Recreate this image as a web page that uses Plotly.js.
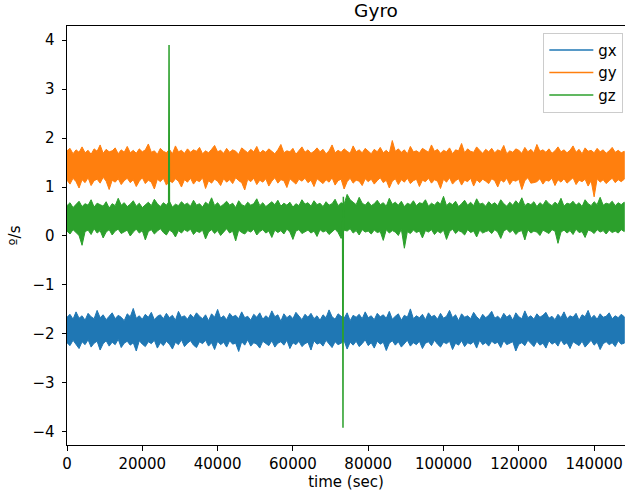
<!DOCTYPE html>
<html>
<head>
<meta charset="utf-8">
<script src="https://cdn.plot.ly/plotly-3.0.1.min.js"></script>
<style>html,body{margin:0;padding:0;background:#fff}#chart{width:625px;height:499px}</style>
</head>
<body>
<div id="chart"></div>
<script>
// Envelope of each noisy gyro signal, read per 800 s window: upper (Hi) and lower (Lo) edge.
const windowStep = 800;

const gxHi = [
-1.66,-1.60,-1.70,-1.55,-1.68,-1.63,-1.72,-1.58,-1.65,-1.69,-1.52,-1.67,-1.61,-1.71,-1.64,-1.57,-1.69,-1.62,-1.66,-1.73,
-1.59,-1.65,-1.48,-1.68,-1.63,-1.70,-1.60,-1.66,-1.56,-1.71,-1.64,-1.61,-1.69,-1.58,-1.67,-1.62,-1.72,-1.54,-1.66,-1.63,
-1.70,-1.60,-1.67,-1.57,-1.64,-1.69,-1.61,-1.73,-1.59,-1.66,-1.50,-1.68,-1.63,-1.71,-1.58,-1.65,-1.62,-1.69,-1.55,-1.67,
-1.64,-1.72,-1.60,-1.66,-1.57,-1.70,-1.63,-1.68,-1.53,-1.65,-1.61,-1.74,-1.59,-1.67,-1.62,-1.69,-1.56,-1.64,-1.71,-1.60,
-1.66,-1.58,-1.69,-1.63,-1.72,-1.61,-1.67,-1.51,-1.65,-1.70,-1.59,-1.64,-1.68,-1.57,-1.73,-1.62,-1.66,-1.60,-1.69,-1.55,
-1.67,-1.63,-1.71,-1.58,-1.65,-1.61,-1.68,-1.54,-1.70,-1.64,-1.59,-1.72,-1.62,-1.66,-1.49,-1.69,-1.63,-1.67,-1.60,-1.71,
-1.57,-1.65,-1.62,-1.70,-1.58,-1.68,-1.64,-1.52,-1.67,-1.61,-1.73,-1.59,-1.66,-1.63,-1.69,-1.56,-1.65,-1.71,-1.60,-1.67,
-1.62,-1.54,-1.68,-1.64,-1.70,-1.58,-1.66,-1.61,-1.72,-1.57,-1.65,-1.69,-1.53,-1.67,-1.63,-1.70,-1.59,-1.66,-1.62,-1.56,
-1.68,-1.64,-1.71,-1.60,-1.67,-1.55,-1.69,-1.63,-1.66,-1.58,-1.72,-1.61,-1.65,-1.52,-1.68,-1.62,-1.70,-1.59,-1.66,-1.64,
-1.57,-1.69,-1.63,-1.67,-1.60,-1.65
];
const gxLo = [
-2.18,-2.24,-2.13,-2.21,-2.30,-2.16,-2.22,-2.12,-2.27,-2.19,-2.15,-2.33,-2.20,-2.14,-2.25,-2.17,-2.22,-2.11,-2.28,-2.19,
-2.15,-2.23,-2.18,-2.35,-2.14,-2.21,-2.26,-2.16,-2.20,-2.13,-2.29,-2.18,-2.24,-2.15,-2.21,-2.31,-2.17,-2.22,-2.12,-2.26,
-2.19,-2.14,-2.23,-2.28,-2.16,-2.20,-2.13,-2.25,-2.18,-2.32,-2.15,-2.22,-2.17,-2.27,-2.14,-2.21,-2.19,-2.36,-2.16,-2.23,
-2.12,-2.25,-2.18,-2.21,-2.29,-2.15,-2.20,-2.24,-2.14,-2.27,-2.19,-2.16,-2.23,-2.13,-2.30,-2.18,-2.22,-2.15,-2.26,-2.20,
-2.17,-2.33,-2.14,-2.21,-2.18,-2.25,-2.13,-2.20,-2.28,-2.16,-2.22,-2.19,-2.14,-2.31,-2.17,-2.23,-2.15,-2.26,-2.20,-2.12,
-2.24,-2.18,-2.29,-2.15,-2.21,-2.17,-2.34,-2.19,-2.14,-2.23,-2.16,-2.27,-2.20,-2.13,-2.25,-2.18,-2.22,-2.15,-2.30,-2.19,
-2.16,-2.24,-2.13,-2.21,-2.27,-2.17,-2.20,-2.15,-2.32,-2.19,-2.23,-2.14,-2.26,-2.18,-2.21,-2.16,-2.29,-2.13,-2.22,-2.18,
-2.25,-2.15,-2.20,-2.17,-2.28,-2.14,-2.22,-2.19,-2.16,-2.35,-2.21,-2.18,-2.24,-2.13,-2.20,-2.26,-2.15,-2.23,-2.19,-2.29,
-2.14,-2.21,-2.17,-2.25,-2.12,-2.22,-2.18,-2.30,-2.16,-2.20,-2.24,-2.15,-2.27,-2.19,-2.13,-2.23,-2.17,-2.32,-2.20,-2.16,
-2.22,-2.18,-2.26,-2.14,-2.21,-2.19
];

const gyHi = [
1.74,1.79,1.68,1.76,1.71,1.82,1.70,1.75,1.67,1.78,1.73,1.86,1.69,1.77,1.72,1.74,1.80,1.68,1.76,1.71,
1.83,1.70,1.75,1.69,1.78,1.72,1.76,1.88,1.71,1.74,1.67,1.79,1.73,1.70,1.77,1.68,1.84,1.72,1.75,1.69,
1.78,1.71,1.76,1.73,1.81,1.68,1.74,1.70,1.77,1.85,1.72,1.75,1.69,1.79,1.71,1.76,1.73,1.67,1.80,1.74,
1.70,1.77,1.72,1.83,1.69,1.75,1.71,1.78,1.73,1.68,1.76,1.87,1.70,1.74,1.72,1.79,1.67,1.75,1.82,1.71,
1.76,1.69,1.73,1.80,1.72,1.77,1.68,1.74,1.86,1.70,1.75,1.71,1.78,1.73,1.69,1.84,1.72,1.76,1.70,1.79,
1.74,1.68,1.77,1.72,1.81,1.70,1.75,1.69,1.95,1.73,1.78,1.71,1.76,1.68,1.83,1.72,1.74,1.70,1.79,1.75,
1.71,1.86,1.73,1.77,1.69,1.75,1.72,1.80,1.68,1.76,1.74,1.89,1.70,1.78,1.73,1.71,1.82,1.75,1.69,1.77,
1.72,1.79,1.70,1.76,1.73,1.85,1.68,1.74,1.71,1.78,1.75,1.69,1.81,1.72,1.77,1.70,1.87,1.73,1.76,1.71,
1.78,1.69,1.74,1.82,1.72,1.76,1.70,1.75,1.84,1.71,1.77,1.68,1.80,1.73,1.75,1.70,1.79,1.72,1.76,1.69,
1.74,1.81,1.71,1.75,1.70,1.73
];
const gyLo = [
1.14,1.06,1.18,1.11,0.98,1.15,1.09,1.19,1.03,1.13,1.16,1.08,1.20,1.12,0.95,1.14,1.10,1.17,1.05,1.13,
1.18,1.09,1.15,1.01,1.12,1.19,1.07,1.14,1.10,0.96,1.16,1.11,1.18,1.04,1.13,1.09,1.17,1.12,1.00,1.15,
1.10,1.18,1.06,1.14,1.11,1.19,0.97,1.13,1.08,1.16,1.12,1.03,1.17,1.10,1.15,1.07,1.19,1.13,1.09,0.94,
1.16,1.11,1.18,1.05,1.14,1.10,1.17,1.02,1.12,1.19,1.08,1.15,1.13,0.99,1.17,1.11,1.06,1.16,1.12,1.18,
1.09,1.14,1.01,1.17,1.12,1.07,1.15,1.10,1.19,1.04,1.13,1.16,0.96,1.11,1.18,1.08,1.14,1.12,1.03,1.17,
1.11,1.16,1.06,1.13,1.19,1.09,1.14,0.98,1.12,1.17,1.05,1.15,1.10,1.18,1.07,1.13,1.16,1.01,1.14,1.11,
1.18,1.08,1.15,1.12,0.97,1.16,1.10,1.19,1.06,1.13,1.17,1.04,1.14,1.11,1.18,1.02,1.15,1.09,1.16,1.12,
1.07,1.17,1.13,1.00,1.15,1.10,1.18,1.05,1.14,1.12,1.16,0.95,1.13,1.19,1.08,1.09,1.11,1.17,1.06,1.14,
1.12,1.18,1.03,1.15,1.10,1.17,1.08,1.13,1.19,1.05,1.14,1.11,1.16,1.02,1.13,0.80,1.17,1.10,1.15,1.07,
1.13,1.18,1.09,1.15,1.11,1.16
];

const gzHi = [
0.62,0.68,0.58,0.65,0.71,0.60,0.66,0.63,0.74,0.59,0.67,0.64,0.61,0.70,0.57,0.66,0.62,0.77,0.63,0.68,
0.60,0.65,0.72,0.61,0.67,0.58,0.64,0.69,0.62,0.75,0.66,0.60,0.68,0.63,0.71,0.59,0.65,0.62,0.70,0.64,
0.67,0.61,0.73,0.63,0.66,0.59,0.69,0.64,0.78,0.62,0.68,0.60,0.65,0.71,0.63,0.67,0.58,0.72,0.64,0.61,
0.69,0.63,0.66,0.76,0.62,0.68,0.60,0.65,0.70,0.64,0.73,0.61,0.67,0.63,0.69,0.59,0.66,0.62,0.74,0.65,
0.68,0.61,0.72,0.64,0.67,0.60,0.70,0.63,0.66,0.75,0.62,0.68,0.65,0.85,0.74,0.69,0.64,0.79,0.67,0.63,
0.70,0.62,0.66,0.73,0.64,0.68,0.61,0.77,0.65,0.69,0.63,0.71,0.60,0.67,0.64,0.72,0.62,0.68,0.66,0.74,
0.61,0.67,0.63,0.70,0.65,0.81,0.62,0.68,0.64,0.71,0.60,0.66,0.73,0.63,0.69,0.62,0.76,0.65,0.67,0.61,
0.70,0.64,0.68,0.62,0.74,0.66,0.61,0.69,0.63,0.72,0.65,0.78,0.62,0.67,0.64,0.70,0.60,0.68,0.63,0.73,
0.66,0.62,0.69,0.64,0.77,0.61,0.67,0.65,0.71,0.63,0.68,0.60,0.74,0.66,0.62,0.70,0.64,0.79,0.63,0.67,
0.65,0.71,0.62,0.68,0.64,0.69
];
const gzLo = [
0.10,0.04,0.13,0.07,0.01,-0.19,0.09,0.12,0.03,0.15,0.06,0.11,-0.04,0.08,0.13,0.02,0.10,0.14,0.05,0.09,
0.12,0.00,0.08,0.14,0.06,0.11,-0.08,0.09,0.13,0.04,0.10,0.15,0.07,0.02,0.12,0.08,-0.02,0.11,0.06,0.13,
0.09,0.14,0.03,0.10,0.07,0.12,-0.06,0.08,0.13,0.05,0.11,0.01,0.09,0.15,0.06,0.10,-0.10,0.12,0.07,0.04,
0.11,0.08,0.14,0.02,0.09,0.13,0.06,0.10,-0.03,0.12,0.07,0.11,0.04,0.14,0.08,-0.07,0.10,0.13,0.05,0.09,
0.12,0.06,0.10,-0.01,0.13,0.08,0.11,0.03,0.09,0.14,0.07,-0.05,0.12,0.10,0.15,0.06,0.11,0.02,0.13,0.08,
0.10,0.04,0.12,0.07,0.09,-0.09,0.13,0.06,0.11,0.08,0.01,0.14,-0.25,0.09,0.05,0.12,0.07,0.10,-0.04,0.11,
0.08,0.13,0.03,0.10,0.06,0.12,-0.07,0.09,0.14,0.05,0.11,0.08,0.02,0.13,0.07,0.10,-0.02,0.12,0.06,0.09,
0.11,0.05,0.13,0.08,-0.05,0.10,0.14,0.07,0.12,0.03,0.09,0.11,-0.08,0.13,0.06,0.10,0.08,0.01,0.12,0.09,
0.05,0.13,0.10,-0.15,0.08,0.12,0.06,0.11,0.03,0.14,0.07,0.09,-0.03,0.12,0.10,0.05,0.13,0.08,0.11,0.04,
0.12,0.07,0.10,0.06,0.13,0.09
];

// The two single-sample glitches of gz (time in s, value in deg/s)
const gzGlitchTime = [27000, 27100, 27200, null, 73200, 73300, 73400];
const gzGlitchValue = [0.55, 3.90, 0.60, null, 0.30, -3.92, 0.80];

const seriesNames = ["gx", "gy", "gz"];
const seriesColors = ["#1f77b4", "#ff7f0e", "#2ca02c"];
const xTickVals = [0, 20000, 40000, 60000, 80000, 100000, 120000, 140000];
const yTickVals = [-4, -3, -2, -1, 0, 1, 2, 3, 4];

const time = gxHi.map((_, i) => i * windowStep);
const bands = [[gxHi, gxLo], [gyHi, gyLo], [gzHi, gzLo]];
const data = [];
bands.forEach(([hi, lo], k) => {
  data.push({
    type: "scatter", mode: "lines", showlegend: false, hoverinfo: "skip",
    x: time.concat(time.slice().reverse()),
    y: hi.concat(lo.slice().reverse()),
    fill: "toself", fillcolor: seriesColors[k],
    line: {color: seriesColors[k], width: 1}
  });
});
data.push({
  type: "scatter", mode: "lines", showlegend: false, connectgaps: false,
  x: gzGlitchTime, y: gzGlitchValue,
  line: {color: seriesColors[2], width: 1.5}
});
seriesNames.forEach((n, k) => {
  data.push({type: "scatter", mode: "lines", name: n, x: [null], y: [null], line: {color: seriesColors[k], width: 1.5}});
});

const font = {family: "DejaVu Sans, sans-serif", size: 15, color: "#000"};
const layout = {
  width: 625, height: 499,
  margin: {l: 67, r: 0, t: 26, b: 54, pad: 0},
  paper_bgcolor: "#fff", plot_bgcolor: "#fff",
  font: font,
  title: {text: "Gyro", font: {family: font.family, size: 18.5, color: "#000"}, x: 0.6016, xanchor: "center", y: 0.978, yanchor: "middle"},
  showlegend: true,
  legend: {x: 0.997, xanchor: "right", y: 0.984, yanchor: "top", bgcolor: "rgba(255,255,255,0.8)", bordercolor: "#cccccc", borderwidth: 1, font: {family: font.family, size: 15, color: "#000"}, tracegroupgap: 0, itemwidth: 44},
  xaxis: {
    range: [0, 148200], tickvals: xTickVals, ticktext: xTickVals.map(String),
    ticks: "outside", ticklen: 4.5, tickwidth: 1, tickcolor: "#000",
    showline: true, linecolor: "#000", linewidth: 1, mirror: true,
    showgrid: false, zeroline: false, automargin: false,
    title: {text: "time (sec)", font: font, standoff: 3}
  },
  yaxis: {
    range: [-4.27, 4.29], tickvals: yTickVals, ticktext: yTickVals.map(v => v < 0 ? "\u2212" + Math.abs(v) : String(v)),
    ticks: "outside", ticklen: 4.5, tickwidth: 1, tickcolor: "#000", ticklabelstandoff: 4,
    showline: true, linecolor: "#000", linewidth: 1, mirror: true,
    showgrid: false, zeroline: false, automargin: false,
    title: {text: "º/s", font: font, standoff: 8}
  }
};
Plotly.newPlot("chart", data, layout, {displayModeBar: false, staticPlot: true});
</script>
</body>
</html>
